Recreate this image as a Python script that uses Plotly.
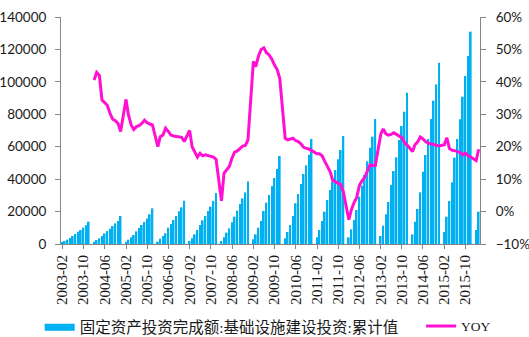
import plotly.graph_objects as go

# Years covered; each year runs Feb..Dec (Jan is reported together with Feb)
years = list(range(2003, 2017))

# 固定资产投资完成额:基础设施建设投资:累计值 (亿元)
invest = [
    800, 1850, 2700, 3700, 4900, 6200, 7600, 8600, 10100, 11500, 13800,          # 2003
    1450, 2450, 3500, 4900, 6600, 8000, 9450, 11100, 12750, 14200, 17300,        # 2004
    1450, 2650, 4100, 5550, 7800, 9850, 11700, 13550, 15800, 18300, 22000,       # 2005
    1450, 3300, 4900, 6600, 10050, 12300, 14800, 17250, 20150, 22600, 26700,     # 2006
    1850, 3500, 5950, 8650, 11700, 14600, 17250, 20350, 23000, 26500, 31500,     # 2007
    1850, 4100, 7000, 9650, 13350, 16850, 20550, 24650, 28150, 31850, 38600,     # 2008
    2900, 5950, 10050, 14200, 20350, 25500, 30200, 35750, 40700, 46250, 54300,   # 2009
    3500, 7400, 11700, 17250, 25100, 30850, 37000, 43150, 48500, 55100, 64750,   # 2010
    4100, 8650, 14200, 19950, 27100, 33300, 38450, 45650, 52200, 57950, 66600,   # 2011
    4100, 9050, 14800, 20950, 29200, 36000, 42500, 51000, 59400, 66200, 77100,   # 2012
    4950, 11300, 18300, 25900, 36400, 45000, 53450, 64150, 72750, 81600, 93350,  # 2013
    5950, 13750, 21600, 31850, 44600, 54900, 64750, 77100, 88400, 98450, 111800, # 2014
    7400, 16850, 26500, 38050, 53250, 64750, 76900, 90850, 103600, 115950, 130950,  # 2015
    8650, 19950,                                                                 # 2016
]

# YOY growth of the cumulative value (%); no comparison base in 2003
yoy = [None] * 11 + [
    40.6, 42.9, 42.0, 34.4, 33.6, 32.8, 30.3, 28.5, 28.0, 27.2, 24.7,   # 2004
    34.6, 29.8, 26.7, 25.3, 26.2, 26.5, 27.2, 28.2, 27.4, 27.0, 26.7,   # 2005
    20.0, 23.1, 23.6, 25.7, 24.7, 23.6, 23.3, 23.1, 23.0, 22.9, 21.6,   # 2006
    25.0, 20.0, 18.2, 16.8, 18.0, 17.2, 17.5, 17.2, 17.0, 16.8, 16.1,   # 2007
    3.3, 11.8, 12.8, 13.9, 16.5, 18.3, 18.7, 19.5, 20.2, 20.4, 22.1,    # 2008
    46.3, 44.7, 48.0, 50.0, 50.5, 49.0, 48.3, 47.0, 45.2, 43.8, 41.0,   # 2009
    22.6, 22.1, 22.4, 22.6, 21.9, 21.6, 20.9, 19.8, 19.5, 19.3, 18.8,   # 2010
    17.8, 17.8, 17.2, 15.5, 13.9, 12.3, 9.6, 9.1, 8.8, 8.3, 6.0,        # 2011
    -2.5, 0.5, 2.8, 4.3, 8.0, 9.5, 10.5, 12.5, 14.4, 14.2, 14.2,        # 2012
    23.8, 25.5, 24.0, 23.6, 23.8, 24.3, 23.8, 23.3, 22.8, 21.3, 20.5,   # 2013
    18.5, 20.6, 21.5, 23.0, 22.4, 21.6, 21.1, 20.9, 20.5, 20.4, 20.2,   # 2014
    20.6, 22.8, 19.4, 18.9, 18.8, 18.5, 18.2, 17.5, 18.0, 17.2, 16.8,   # 2015
    15.7, 19.2,                                                         # 2016
]

months = [f"{y}-{m:02d}" for y in years for m in range(2, 13)][:len(invest)]

bar_name = "固定资产投资完成额:基础设施建设投资:累计值"
bar_color = "#00B0F0"
line_color = "#FF10D2"
axis_color = "#868686"

fig = go.Figure()
fig.add_trace(go.Bar(x=months, y=invest, marker=dict(color=bar_color, line=dict(width=0)),
                     showlegend=False, yaxis="y"))
# legend entry for the bars, drawn as a wide band
fig.add_trace(go.Scatter(x=[None], y=[None], mode="lines", name=bar_name,
                         line=dict(color=bar_color, width=7), yaxis="y", legend="legend"))
fig.add_trace(go.Scatter(x=months, y=yoy, mode="lines", name="YOY",
                         line=dict(color=line_color, width=3), yaxis="y2", legend="legend2"))

num_font = dict(family="Lato, Liberation Sans, sans-serif", size=13.5, color="#1a1a1a")
legend_font = dict(family="Liberation Serif, Noto Sans CJK SC, serif", size=15.5, color="#1a1a1a")

fig.update_layout(
    width=529, height=337,
    margin=dict(l=61, r=49, t=17, b=93, autoexpand=False),
    paper_bgcolor="white", plot_bgcolor="white",
    bargap=0.3,
    xaxis=dict(
        type="date", range=["2003-01-17", "2016-03-16"], automargin=False,
        tick0="2003-02-01", dtick="M8", tickformat="%Y-%m", tickangle=-90,
        ticks="outside", ticklen=4, tickcolor=axis_color,
        showline=True, linecolor=axis_color, linewidth=1, showgrid=False,
        tickfont=dict(family="Liberation Serif, serif", size=15, color="#1a1a1a"),
    ),
    yaxis=dict(
        range=[0, 140000], tick0=0, dtick=20000, tickformat="d", automargin=False,
        ticks="outside", ticklen=5, tickcolor=axis_color,
        showline=True, linecolor=axis_color, linewidth=1, showgrid=False,
        zeroline=False, tickfont=num_font, ticklabelstandoff=6,
    ),
    yaxis2=dict(
        overlaying="y", side="right", range=[-10, 60], tick0=-10, dtick=10,
        automargin=False,
        ticksuffix="%", ticks="outside", ticklen=5, tickcolor=axis_color,
        showline=True, linecolor=axis_color, linewidth=1, showgrid=False,
        zeroline=False, tickfont=num_font, ticklabelstandoff=7,
    ),
    legend=dict(
        orientation="h", x=0.075, xanchor="left", xref="container",
        y=0.078, yanchor="top", yref="container",
        font=legend_font, bgcolor="rgba(0,0,0,0)",
    ),
    legend2=dict(
        orientation="h", x=0.796, xanchor="left", xref="container",
        y=0.078, yanchor="top", yref="container",
        font=dict(legend_font, size=13.5), bgcolor="rgba(0,0,0,0)",
    ),
)

fig.write_html("out.html")
